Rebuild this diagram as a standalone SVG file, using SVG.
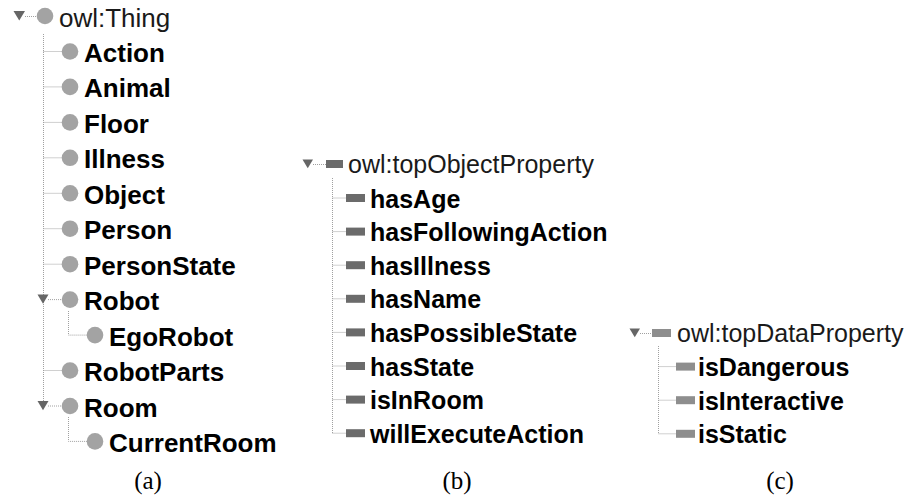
<svg xmlns="http://www.w3.org/2000/svg" width="912" height="498" viewBox="0 0 912 498">
<style>
.t{font-family:"Liberation Sans",Arial,sans-serif;font-weight:bold;fill:#000}
.a{font-size:26px}
.b{font-size:25px}
.r{font-weight:normal;fill:#1a1a1a}
.cls{fill:#a3a3a3}
.op{fill:#6b6b6b}
.dp{fill:#8e8e8e}
.tri{fill:#666}
.cn{stroke:#a0a0a0;stroke-width:1;stroke-dasharray:1 1;fill:none}
.cap{font-family:"Liberation Serif","Times New Roman",serif;font-size:25px;fill:#000;text-anchor:middle}
</style>
<rect width="912" height="498" fill="#fff"/>
<g id="connectors">
<path class="cn" d="M25 16.5H37"/>
<path class="cn" d="M43.5 34V406"/>
<path class="cn" d="M43.5 51.5H62M43.5 86.9H62M43.5 122.4H62M43.5 157.8H62M43.5 193.3H62M43.5 228.7H62M43.5 264.2H62M48 299.6H62M43.5 370.5H62M48 406H62"/>
<path class="cn" d="M68.5 311V335.1H87M68.5 417V441.4H87"/>
<path class="cn" d="M313 164.5H326"/>
<path class="cn" d="M332.5 178V433.2"/>
<path class="cn" d="M332.5 198H346M332.5 231.6H346M332.5 265.2H346M332.5 298.8H346M332.5 332.4H346M332.5 366H346M332.5 399.6H346M332.5 433.2H346"/>
<path class="cn" d="M640 333.5H652"/>
<path class="cn" d="M658.5 346V433.8"/>
<path class="cn" d="M658.5 366.6H676M658.5 400.2H676M658.5 433.8H676"/>
</g>
<g id="owl-Thing"><polygon class="tri" points="13.5,11 25,11 19.25,20.5"/><circle class="cls" cx="45" cy="16" r="8.3"/><text class="t a r" x="59" y="26.5">owl:Thing</text></g>
<g id="Action"><circle class="cls" cx="70" cy="51.5" r="8.3"/><text class="t a" x="84" y="62">Action</text></g>
<g id="Animal"><circle class="cls" cx="70" cy="86.9" r="8.3"/><text class="t a" x="84" y="97.4">Animal</text></g>
<g id="Floor"><circle class="cls" cx="70" cy="122.4" r="8.3"/><text class="t a" x="84" y="132.9">Floor</text></g>
<g id="Illness"><circle class="cls" cx="70" cy="157.8" r="8.3"/><text class="t a" x="84" y="168.3">Illness</text></g>
<g id="Object"><circle class="cls" cx="70" cy="193.3" r="8.3"/><text class="t a" x="84" y="203.8">Object</text></g>
<g id="Person"><circle class="cls" cx="70" cy="228.7" r="8.3"/><text class="t a" x="84" y="239.2">Person</text></g>
<g id="PersonState"><circle class="cls" cx="70" cy="264.2" r="8.3"/><text class="t a" x="84" y="274.7">PersonState</text></g>
<g id="Robot"><polygon class="tri" points="37.5,294.6 48.5,294.6 43,303.8"/><circle class="cls" cx="70" cy="299.6" r="8.3"/><text class="t a" x="84" y="310.1">Robot</text></g>
<g id="EgoRobot"><circle class="cls" cx="95" cy="335.1" r="8.3"/><text class="t a" x="109" y="345.6">EgoRobot</text></g>
<g id="RobotParts"><circle class="cls" cx="70" cy="370.5" r="8.3"/><text class="t a" x="84" y="381">RobotParts</text></g>
<g id="Room"><polygon class="tri" points="37.5,401 48.5,401 43,410.2"/><circle class="cls" cx="70" cy="406" r="8.3"/><text class="t a" x="84" y="416.5">Room</text></g>
<g id="CurrentRoom"><circle class="cls" cx="95" cy="441.4" r="8.3"/><text class="t a" x="109" y="451.9">CurrentRoom</text></g>

<g id="owl-topObjectProperty"><polygon class="tri" points="302.5,159.5 313,159.5 307.75,168.2"/><rect class="op" x="326" y="160" width="17" height="8"/><text class="t b r" x="348" y="173">owl:topObjectProperty</text></g>
<g id="hasAge"><rect class="op" x="346" y="194" width="19" height="8"/><text class="t b" x="370" y="207.5">hasAge</text></g>
<g id="hasFollowingAction"><rect class="op" x="346" y="227.6" width="19" height="8"/><text class="t b" x="370" y="241.1">hasFollowingAction</text></g>
<g id="hasIllness"><rect class="op" x="346" y="261.2" width="19" height="8"/><text class="t b" x="370" y="274.7">hasIllness</text></g>
<g id="hasName"><rect class="op" x="346" y="294.8" width="19" height="8"/><text class="t b" x="370" y="308.3">hasName</text></g>
<g id="hasPossibleState"><rect class="op" x="346" y="328.4" width="19" height="8"/><text class="t b" x="370" y="341.9">hasPossibleState</text></g>
<g id="hasState"><rect class="op" x="346" y="362" width="19" height="8"/><text class="t b" x="370" y="375.5">hasState</text></g>
<g id="isInRoom"><rect class="op" x="346" y="395.6" width="19" height="8"/><text class="t b" x="370" y="409.1">isInRoom</text></g>
<g id="willExecuteAction"><rect class="op" x="346" y="429.2" width="19" height="8"/><text class="t b" x="370" y="442.7">willExecuteAction</text></g>

<g id="owl-topDataProperty"><polygon class="tri" points="629.5,328.5 640,328.5 634.75,337.2"/><rect class="dp" x="652" y="329" width="19" height="8"/><text class="t b r" x="677" y="342">owl:topDataProperty</text></g>
<g id="isDangerous"><rect class="dp" x="676" y="362.6" width="19" height="8"/><text class="t b" x="698" y="376.1">isDangerous</text></g>
<g id="isInteractive"><rect class="dp" x="676" y="396.2" width="19" height="8"/><text class="t b" x="698" y="409.7">isInteractive</text></g>
<g id="isStatic"><rect class="dp" x="676" y="429.8" width="19" height="8"/><text class="t b" x="698" y="443.3">isStatic</text></g>

<text class="cap" x="148" y="489">(a)</text>
<text class="cap" x="457" y="489">(b)</text>
<text class="cap" x="780" y="489">(c)</text>
</svg>
